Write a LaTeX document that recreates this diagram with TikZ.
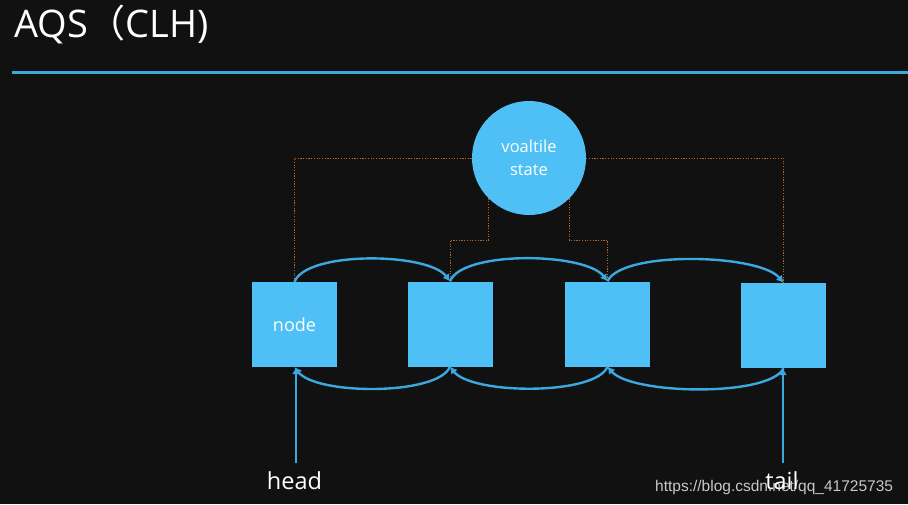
\documentclass[tikz,border=0pt]{standalone}
\usepackage{fontspec}
\setmainfont{Open Sans}
\newfontfamily\cjk{Noto Sans CJK SC}
\newfontfamily\wmfont{Liberation Sans}
\usetikzlibrary{arrows.meta}
\definecolor{bg}{HTML}{111111}
\definecolor{lineblue}{HTML}{3CA8E0}
\definecolor{boxblue}{HTML}{4EC0F6}
\definecolor{dotorange}{HTML}{B0682C}
\definecolor{wm}{HTML}{C8C8C8}
\tikzset{
  box/.style={fill=boxblue, draw=none, minimum size=85pt, inner sep=0pt, text=white, font=\fontsize{18}{20}\selectfont},
  statecircle/.style={circle, fill=boxblue, draw=none, minimum size=114pt, inner sep=0pt, text=white, align=center, font=\fontsize{16.5}{23}\selectfont},
  link/.style={draw=lineblue, line width=2.4pt, -{Latex[length=7pt,width=8pt]}},
  dotline/.style={draw=dotorange, line width=0.8pt, dash pattern=on 1.2pt off 1.5pt},
  label/.style={text=white, font=\fontsize{23.5}{26}\selectfont, inner sep=0pt, anchor=base}
}
\begin{document}
\begin{tikzpicture}[x=1pt, y=-1pt]
\fill[bg] (0,0) rectangle (908,504);
\useasboundingbox (0,0) rectangle (908,504);
% title
\node[anchor=base west, inner sep=0pt, text=white, font=\fontsize{38}{42}\selectfont] (title) at (14,37) {AQS{\cjk （}CLH)};
\draw[lineblue, line width=3pt] (12,72) -- (908,72);
% nodes
\node[statecircle] (st) at (529,158) {voaltile\\state};
\node[box] (n1) at (294.5,324.5) {node};
\node[box] (n2) at (450,324) {};
\node[box] (n3) at (607.5,324) {};
\node[box] (n4) at (783.5,325.5) {};
% dotted links to state
\draw[dotline] (n1.north) |- (st.west);
\draw[dotline] (st.east) -| (n4.north);
\draw[dotline] (st.225) -- (st.225 |- 0,240) -| (n2.north);
\draw[dotline] (st.315) -- (st.315 |- 0,240) -| (n3.north);
% top arcs (next)
\draw[link] (n1.north) .. controls +(12,-31) and +(-22,-29) .. (n2.north);
\draw[link] (n2.north) .. controls +(12,-31) and +(-22,-29) .. (n3.north);
\draw[link] (n3.north) .. controls +(14,-31) and +(-24,-29) .. (n4.north);
% bottom arcs (prev)
\draw[link] (n2.south) .. controls +(-12,29) and +(22,28) .. (n1.south);
\draw[link] (n3.south) .. controls +(-12,29) and +(22,28) .. (n2.south);
\draw[link] (n4.south) .. controls +(-14,29) and +(24,28) .. (n3.south);
% head / tail pointers
\coordinate (h) at (296,463);
\coordinate (t) at (783,463);
\draw[link] (h) -- (h |- n1.south);
\draw[link] (t) -- (t |- n4.south);
\node[anchor=base west, inner sep=0pt, text=wm, font=\wmfont\fontsize{15.5}{17}\selectfont] (wmark) at (655,491) {https://blog.csdn.net/qq\_41725735};
\node[label] (headl) at (294.5,489) {head};
\node[label] (taill) at (782,489) {tail};
\end{tikzpicture}
\end{document}
